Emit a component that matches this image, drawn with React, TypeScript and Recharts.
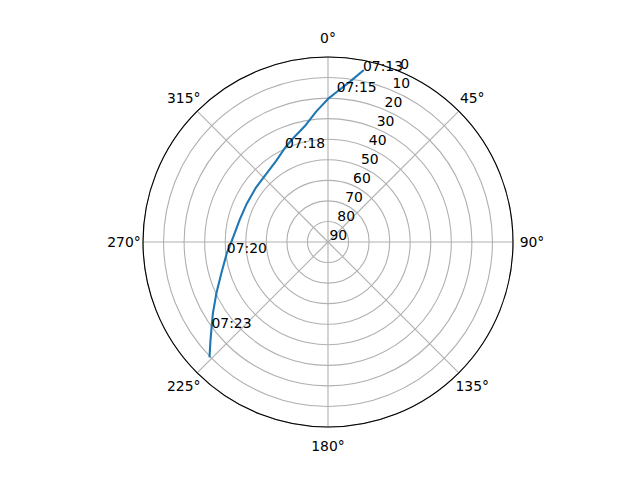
import { PolarAngleAxis, PolarGrid, PolarRadiusAxis, Radar, RadarChart } from "recharts";

// satellite pass (azimuth clockwise from north, elevation in degrees)
const azimuth = [11.55, 7.9, 3.3, 0, 354.9, 348.6, 341.1, 335.5, 327.4, 317.2, 306.6, 294.6, 284.2, 275.5, 267.4, 263.8, 253.8, 245.4, 238.3, 233.5, 229.8, 226.0];
const elevation = [4.9, 11.1, 16.9, 20.4, 26.2, 32.6, 36.9, 39.6, 43.2, 45.4, 46.1, 46.3, 45.7, 44.4, 42.1, 40.5, 36.0, 30.3, 24.2, 19.5, 15.1, 9.9];
const timeLabels = ["07:13", "", "07:15", "", "", "", "", "07:18", "", "", "", "", "", "", "", "07:20", "", "", "", "07:23", "", ""];

const angleTicks = [0, 45, 90, 135, 180, 225, 270, 315];
const radiusTicks = [0, 10, 20, 30, 40, 50, 60, 70, 80, 90];

const data = azimuth.map((az, i) => ({ az, el: elevation[i], time: timeLabels[i] }));

const FONT = "DejaVu Sans, sans-serif";
const FS = 13.9;

function AngleTick(props: any) {
	const { x, y, payload } = props;
	return (
		<text x={x} y={y + 5} textAnchor="middle" fontSize={FS} fontFamily={FONT} fill="#000">
			{payload.value}°
		</text>
	);
}

function RadiusTick(props: any) {
	const { x, y, payload } = props;
	return (
		<text x={x + 1.5} y={y - 2.5} textAnchor="start" fontSize={FS} fontFamily={FONT} fill="#000">
			{payload.value}
		</text>
	);
}

function Track(props: any) {
	const pts = props.points ?? [];
	const d = pts.map((p: any, i: number) => `${i ? "L" : "M"}${p.x},${p.y}`).join("");
	return (
		<g>
			<path d={d} fill="none" stroke="#1f77b4" strokeWidth={2.1} strokeLinejoin="round" strokeLinecap="square" />
			{pts.map((p: any, i: number) =>
				p.payload.time ? (
					<text key={i} x={p.x} y={p.y} fontSize={FS} fontFamily={FONT} fill="#000">
						{p.payload.time}
					</text>
				) : null,
			)}
		</g>
	);
}

export default function App() {
	return (
		<div style={{ width: 624, height: 464, fontFamily: FONT, background: "#fff" }}>
			<RadarChart
				width={624}
				height={464}
				data={data}
				cx={320}
				cy={234}
				innerRadius={0}
				outerRadius={185}
				startAngle={90}
				endAngle={-270}
				margin={{ top: 0, right: 0, bottom: 0, left: 0 }}
			>
				<PolarGrid gridType="circle" stroke="#b0b0b0" strokeWidth={1.1} />
				<PolarAngleAxis
					dataKey="az"
					type="number"
					domain={[0, 360]}
					ticks={angleTicks}
					tick={<AngleTick />}
					tickLine={false}
					tickSize={19}
					axisLineType="circle"
					axisLine={{ stroke: "#000", strokeWidth: 1.1 }}
				/>
				<PolarRadiusAxis
					type="number"
					domain={[0, 90]}
					ticks={radiusTicks}
					reversed
					angle={67.5}
					axisLine={false}
					tick={<RadiusTick />}
				/>
				<Radar dataKey="el" isAnimationActive={false} shape={<Track />} fill="none" stroke="#1f77b4" />
			</RadarChart>
		</div>
	);
}
